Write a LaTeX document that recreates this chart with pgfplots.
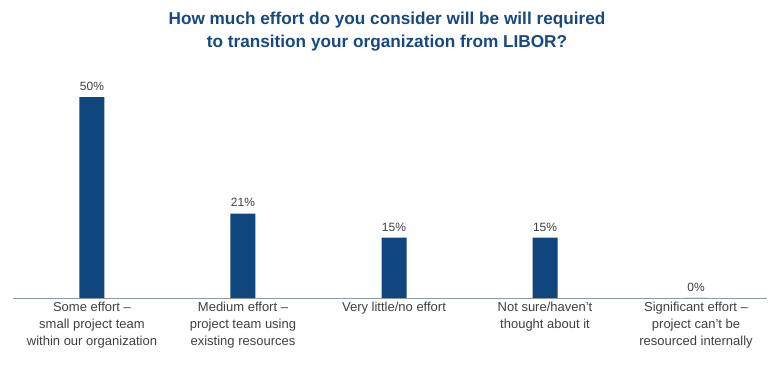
\documentclass[border=0pt]{standalone}
\usepackage{pgfplots}
\pgfplotsset{compat=1.18}
\usepackage{fontspec}
\setmainfont{Liberation Sans}
\definecolor{barblue}{RGB}{16,70,126}
\definecolor{titleblue}{RGB}{22,72,130}
\definecolor{txtgrey}{RGB}{64,64,64}
\definecolor{axgrey}{RGB}{140,152,162}
\begin{document}
\begin{tikzpicture}[x=1pt,y=1pt]
\useasboundingbox (0,0) rectangle (780,367);
\node[font=\fontsize{17.2}{23}\selectfont\bfseries, text=titleblue, align=center] at (387,335)
  {How much effort do you consider will be will required\\to transition your organization from LIBOR?};
\begin{axis}[
  at={(13pt,69pt)}, anchor=south west,
  scale only axis,
  width=754pt, height=241.2pt,
  xmin=-0.523, xmax=4.47,
  ymin=0, ymax=60,
  axis x line*=bottom,
  hide y axis,
  axis line style={axgrey, line width=0.8pt, -},
  xtick=data,
  major tick length=0pt,
  xticklabels={{Some effort --\\small project team\\within our organization},
               {Medium effort --\\project team using\\existing resources},
               {Very little/no effort},
               {Not sure/haven't\\thought about it},
               {Significant effort --\\project can't be\\resourced internally}},
  xticklabel style={align=center, font=\fontsize{13}{16.7}\selectfont, text=txtgrey, anchor=north, yshift=-1pt},
  ybar, bar width=25pt,
  nodes near coords={\pgfmathprintnumber{\pgfplotspointmeta}\%},
  nodes near coords style={font=\fontsize{12}{14}\selectfont, text=txtgrey, yshift=3pt},
  /pgf/number format/assume math mode=true,
  clip=false,
]
\addplot[fill=barblue, draw=none] coordinates {(0,50) (1,21) (2,15) (3,15) (4,0)};
\end{axis}
\end{tikzpicture}
\end{document}
